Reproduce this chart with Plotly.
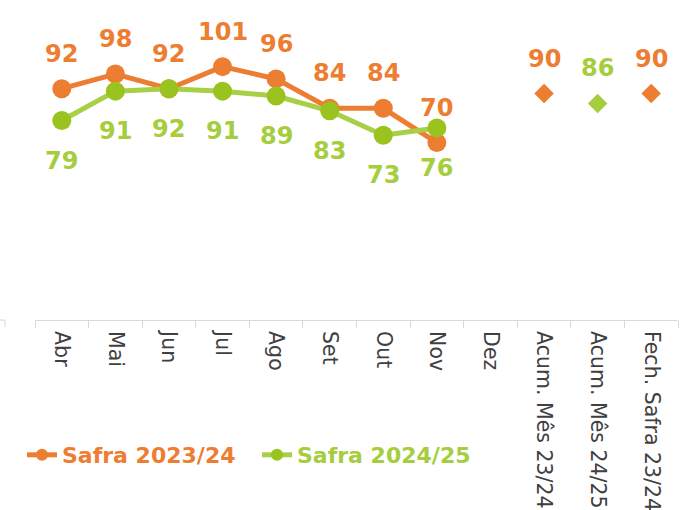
import plotly.graph_objects as go

categories = ["Abr", "Mai", "Jun", "Jul", "Ago", "Set", "Out", "Nov", "Dez",
              "Acum. Mês 23/24", "Acum. Mês 24/25", "Fech. Safra 23/24"]
months = ["Abr", "Mai", "Jun", "Jul", "Ago", "Set", "Out", "Nov"]
safra_2324 = [92, 98, 92, 101, 96, 84, 84, 70]
safra_2425 = [79, 91, 92, 91, 89, 83, 73, 76]
acum_2324_cat = ["Acum. Mês 23/24", "Fech. Safra 23/24"]
acum_2324 = [90, 90]
acum_2425_cat = ["Acum. Mês 24/25"]
acum_2425 = [86]

ORANGE = "#ED7D31"
GREEN_LINE = "#A8CF45"
GREEN_MARK = "#9AC31F"
GREEN_TXT = "#A5CD3E"
AXIS = "#D9D9D9"

fig = go.Figure()
fig.add_trace(go.Scatter(
    x=months, y=safra_2324, mode="lines+markers",
    name=f"<span style='color:{ORANGE}'>Safra 2023/24</span>",
    line=dict(color=ORANGE, width=5),
    marker=dict(color=ORANGE, size=19),
))
fig.add_trace(go.Scatter(
    x=months, y=safra_2425, mode="lines+markers",
    name=f"<span style='color:{GREEN_TXT}'>Safra 2024/25</span>",
    line=dict(color=GREEN_LINE, width=5),
    marker=dict(color=GREEN_MARK, size=19),
))
fig.add_trace(go.Scatter(
    x=acum_2324_cat, y=acum_2324, mode="markers", showlegend=False,
    marker=dict(color=ORANGE, size=15, symbol="diamond"),
))
fig.add_trace(go.Scatter(
    x=acum_2425_cat, y=acum_2425, mode="markers", showlegend=False,
    marker=dict(color=GREEN_TXT, size=15, symbol="diamond"),
))

lab_font = dict(family="DejaVu Sans", size=24, weight="bold")
annotations = []
for c, v in zip(months, safra_2324):
    annotations.append(dict(x=c, y=v, text=str(v), showarrow=False, yshift=35,
                            font=dict(color=ORANGE, **lab_font)))
for c, v in zip(months, safra_2425):
    annotations.append(dict(x=c, y=v, text=str(v), showarrow=False, yshift=-40,
                            font=dict(color=GREEN_TXT, **lab_font)))
for c, v in zip(acum_2324_cat, acum_2324):
    annotations.append(dict(x=c, y=v, text=str(v), showarrow=False, yshift=35,
                            font=dict(color=ORANGE, **lab_font)))
for c, v in zip(acum_2425_cat, acum_2425):
    annotations.append(dict(x=c, y=v, text=str(v), showarrow=False, yshift=35,
                            font=dict(color=GREEN_TXT, **lab_font)))

fig.update_layout(
    width=689, height=510,
    margin=dict(l=35, r=11, t=0, b=190, autoexpand=False),
    paper_bgcolor="white", plot_bgcolor="white",
    annotations=annotations,
    showlegend=True,
    legend=dict(
        orientation="h", xref="container", yref="container",
        x=22 / 689, y=1 - 455 / 510, xanchor="left", yanchor="middle",
        font=dict(family="DejaVu Sans", size=22, weight="bold"),
        entrywidth=190, entrywidthmode="pixels",
        itemsizing="constant",
        bgcolor="rgba(0,0,0,0)",
    ),
    xaxis=dict(
        type="category", categoryorder="array", categoryarray=categories,
        range=[-0.5, 11.5], showgrid=False, zeroline=False, automargin=False,
        showline=True, linecolor=AXIS, linewidth=1,
        ticks="outside", tickson="boundaries", ticklen=7, tickcolor=AXIS,
        ticklabelstandoff=6,
        tickangle=90, tickfont=dict(family="DejaVu Sans", size=20.5, color="#404040"),
    ),
    yaxis=dict(range=[-2.4, 128.2], visible=False, showgrid=False, zeroline=False,
               automargin=False),
    shapes=[
        dict(type="line", xref="paper", yref="paper",
             x0=(0 - 35) / 643, x1=(5 - 35) / 643, y0=0, y1=0,
             line=dict(color=AXIS, width=1)),
        dict(type="line", xref="paper", yref="y domain",
             x0=(5 - 35) / 643, x1=(5 - 35) / 643, y0=0, y1=-7 / 320,
             line=dict(color=AXIS, width=1)),
    ],
)

fig.write_html("out.html",
               config={"displayModeBar": False},
               post_script="document.body.style.margin='0';document.body.style.overflow='hidden';")
